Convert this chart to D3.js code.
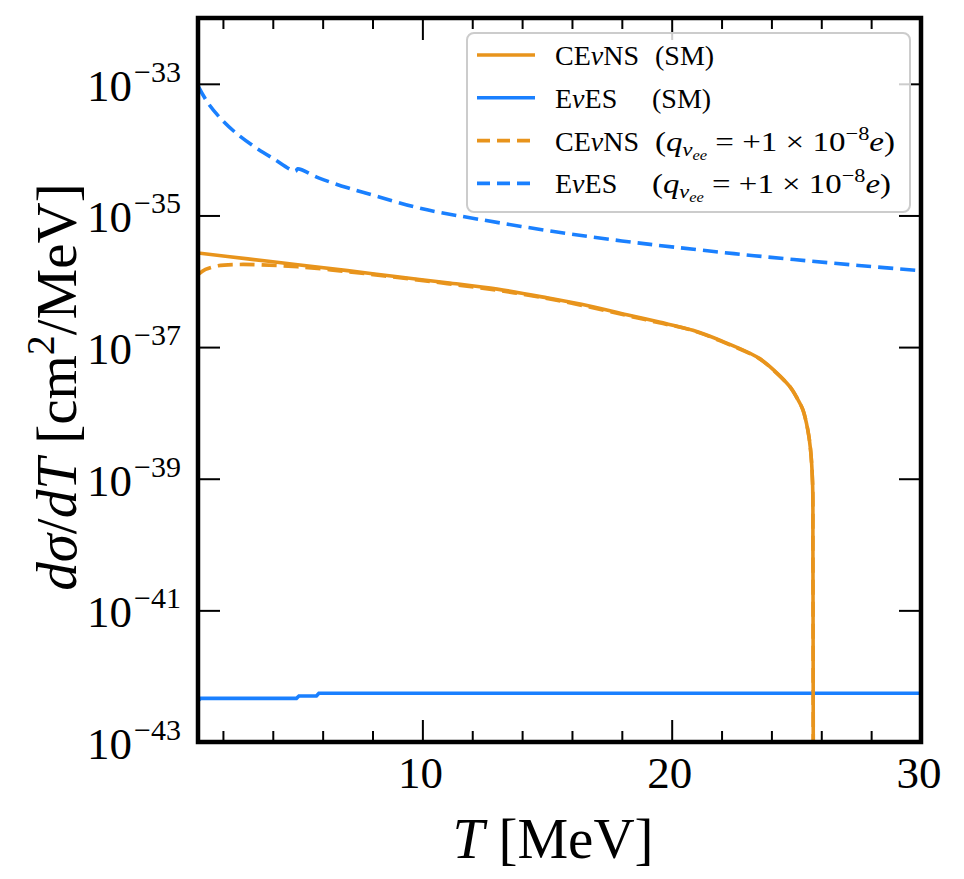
<!DOCTYPE html>
<html>
<head>
<meta charset="utf-8">
<script src="https://cdn.jsdelivr.net/npm/d3@7"></script>
<style>
  body { margin: 0; background: #fff; }
  svg { display: block; }
  text { font-family: "Liberation Serif", "DejaVu Serif", serif; fill: #000; }
</style>
</head>
<body>
<svg id="chart" width="964" height="879"></svg>
<script>
// T in MeV, dsigma/dT in cm^2/MeV
var cevnsSM_T   = [1, 3, 5, 7, 9, 11, 13, 15, 16.7, 18.2, 19.5, 20.85, 22, 23.5, 24.2, 24.74, 25.02, 25.26, 25.46, 25.57, 25.65, 25.665, 25.68];
var cevnsSM_val = [2.69e-36, 2.19e-36, 1.78e-36, 1.45e-36, 1.17e-36, 9.5e-37, 7.6e-37, 5.6e-37, 4.2e-37, 3.1e-37, 2.4e-37, 1.8e-37, 1.24e-37, 6.8e-38, 4.1e-38, 2.5e-38, 1.7e-38, 1.12e-38, 5.5e-39, 2.75e-39, 8.7e-40, 7.9e-41, 3e-44];

var evesSM_T   = [1, 1.1, 4.95, 5.05, 5.75, 5.85, 30];
var evesSM_val = [4.2e-43, 4.6e-43, 4.6e-43, 5.0e-43, 5.0e-43, 5.5e-43, 5.5e-43];

var cevnsQ_T   = [1, 1.3, 1.8, 2.6, 3.5, 5, 7, 9, 11, 13, 15, 16.7, 18.2, 19.5, 20.85, 22, 23.5, 24.2, 24.74, 25.02, 25.26, 25.46, 25.57, 25.65, 25.665, 25.68];
var cevnsQ_val = [1.26e-36, 1.51e-36, 1.72e-36, 1.80e-36, 1.78e-36, 1.66e-36, 1.40e-36, 1.14e-36, 9.2e-37, 7.3e-37, 5.5e-37, 4.07e-37, 3.02e-37, 2.34e-37, 1.78e-37, 1.22e-37, 6.7e-38, 4.05e-38, 2.5e-38, 1.7e-38, 1.12e-38, 5.5e-39, 2.75e-39, 8.7e-40, 7.9e-41, 3e-44];

var evesQ_T   = [1, 1.4, 1.9, 2.5, 3.2, 4, 4.9, 5.0, 5.86, 7, 8.27, 10, 12.3, 15.4, 18, 20.1, 22.5, 24.9, 27.5, 30];
var evesQ_val = [9.3e-34, 5.1e-34, 3.0e-34, 1.82e-34, 1.15e-34, 7.4e-35, 4.7e-35, 5.1e-35, 3.7e-35, 2.63e-35, 1.91e-35, 1.26e-35, 8.7e-36, 5.6e-36, 4.1e-36, 3.3e-36, 2.63e-36, 2.14e-36, 1.74e-36, 1.45e-36];

var xMajor = [10, 20, 30];
var xMinor = [2, 4, 6, 8, 12, 14, 16, 18, 22, 24, 26, 28];
var yTicks = [1e-43, 1e-41, 1e-39, 1e-37, 1e-35, 1e-33];
var yExponents = ["−43", "−41", "−39", "−37", "−35", "−33"];

var seriesNames = ["CEνNS", "EνES", "CEνNS", "EνES"];
var seriesTags  = ["sm", "sm", "q", "q"];
var seriesColors = ["#E8941C", "#1A80FF", "#E8941C", "#1A80FF"];
var seriesDashed = [false, false, true, true];

var svg = d3.select("#chart");
var pLeft = 198, pRight = 921, pTop = 18, pBottom = 742;

var x = d3.scaleLinear().domain([1, 30]).range([pLeft, pRight]);
var y = d3.scaleLog().domain([1e-43, 1e-32]).range([pBottom, pTop]);

svg.append("defs").append("clipPath").attr("id", "plotclip")
	.append("rect")
	.attr("x", pLeft).attr("y", pTop)
	.attr("width", pRight - pLeft).attr("height", pBottom - pTop);

function pairs(ts, vs)
{
	return ts.map(function(t, i){ return [t, vs[i]]; });
}

var allSeries = [
	pairs(cevnsSM_T, cevnsSM_val),
	pairs(evesSM_T, evesSM_val),
	pairs(cevnsQ_T, cevnsQ_val),
	pairs(evesQ_T, evesQ_val)
];

// centripetal catmull-rom bends cleanly into the vertical drop
var smooth = d3.line()
	.x(function(d){ return x(d[0]); })
	.y(function(d){ return y(d[1]); })
	.curve(d3.curveCatmullRom.alpha(0.5));

var straight = d3.line()
	.x(function(d){ return x(d[0]); })
	.y(function(d){ return y(d[1]); });

var plot = svg.append("g").attr("clip-path", "url(#plotclip)");

allSeries.forEach(function(s, i)
{
	plot.append("path")
		.datum(s)
		.attr("d", i == 1 ? straight : smooth)
		.attr("fill", "none")
		.attr("stroke", seriesColors[i])
		.attr("stroke-width", 3.6)
		.attr("stroke-dasharray", seriesDashed[i] ? "15,7" : null);
});

// ticks on all four sides, pointing inward
function tickStyle(g)
{
	g.select(".domain").remove();
	g.selectAll(".tick line").attr("stroke", "#000").attr("stroke-width", 2);
	g.selectAll(".tick text").remove();
}

svg.append("g").attr("transform", "translate(0," + pBottom + ")")
	.call(d3.axisBottom(x).tickValues(xMajor).tickSize(-22)).call(tickStyle);
svg.append("g").attr("transform", "translate(0," + pBottom + ")")
	.call(d3.axisBottom(x).tickValues(xMinor).tickSize(-11)).call(tickStyle);
svg.append("g").attr("transform", "translate(0," + pTop + ")")
	.call(d3.axisTop(x).tickValues(xMajor).tickSize(-22)).call(tickStyle);
svg.append("g").attr("transform", "translate(0," + pTop + ")")
	.call(d3.axisTop(x).tickValues(xMinor).tickSize(-11)).call(tickStyle);
svg.append("g").attr("transform", "translate(" + pLeft + ",0)")
	.call(d3.axisLeft(y).tickValues(yTicks).tickSize(-22)).call(tickStyle);
svg.append("g").attr("transform", "translate(" + pRight + ",0)")
	.call(d3.axisRight(y).tickValues(yTicks).tickSize(-22)).call(tickStyle);

// tick labels
svg.append("g").selectAll("text")
	.data(xMajor)
	.enter().append("text")
	.attr("x", function(d){ return x(d) - 2; })
	.attr("y", 788)
	.attr("text-anchor", "middle")
	.style("font-size", "45px")
	.text(function(d){ return d; });

var yl = svg.append("g").selectAll("text")
	.data(yTicks)
	.enter().append("text")
	.attr("x", 181)
	.attr("y", function(d){ return y(d) + 17; })
	.attr("text-anchor", "end")
	.style("font-size", "45px");
yl.append("tspan").text("10");
yl.append("tspan")
	.attr("dx", 2)
	.attr("dy", -19)
	.style("font-size", "30px")
	.text(function(d, i){ return yExponents[i]; });

// frame
svg.append("rect")
	.attr("x", pLeft).attr("y", pTop)
	.attr("width", pRight - pLeft).attr("height", pBottom - pTop)
	.attr("fill", "none")
	.attr("stroke", "#000")
	.attr("stroke-width", 4.5);

// axis titles
var xt = svg.append("text")
	.attr("x", 553).attr("y", 858)
	.attr("text-anchor", "middle")
	.style("font-size", "57px");
xt.append("tspan").style("font-style", "italic").text("T");
xt.append("tspan").text(" [MeV]");

var yt = svg.append("text")
	.attr("transform", "translate(76,387) rotate(-90)")
	.attr("text-anchor", "middle")
	.style("font-size", "57px");
yt.append("tspan").style("font-style", "italic").text("dσ");
yt.append("tspan").text("/");
yt.append("tspan").style("font-style", "italic").text("dT");
yt.append("tspan").text(" [cm");
yt.append("tspan").attr("dy", -22).style("font-size", "40px").text("2");
yt.append("tspan").attr("dy", 22).text("/MeV]");

// legend
var lg = svg.append("g");
lg.append("rect")
	.attr("x", 467).attr("y", 33)
	.attr("width", 443).attr("height", 179)
	.attr("rx", 7)
	.attr("fill", "#fff").attr("fill-opacity", 0.8)
	.attr("stroke", "#cccccc").attr("stroke-width", 2);

seriesNames.forEach(function(name, i)
{
	var cy = 55 + i * 42.8;
	lg.append("line")
		.attr("x1", 477).attr("x2", 535)
		.attr("y1", cy).attr("y2", cy)
		.attr("stroke", seriesColors[i])
		.attr("stroke-width", 3.6)
		.attr("stroke-dasharray", seriesDashed[i] ? "13,7" : null);

	lg.append("text")
		.attr("x", 555).attr("y", cy + 10)
		.style("font-size", "28px")
		.call(function(t)
		{
			t.append("tspan").text(name.split("ν")[0]);
			t.append("tspan").style("font-style", "italic").text("ν");
			t.append("tspan").text(name.split("ν")[1]);
		});

	var sfx = lg.append("text")
		.attr("x", i == 1 || i == 3 ? 652 : 655).attr("y", cy + 10)
		.style("font-size", "28px");
	if (seriesTags[i] == "sm")
	{
		sfx.text("(SM)");
	}
	else
	{
		sfx.attr("textLength", i == 2 ? 240 : 239).attr("lengthAdjust", "spacingAndGlyphs");
		sfx.append("tspan").text("(");
		sfx.append("tspan").style("font-style", "italic").text("q");
		sfx.append("tspan").attr("dy", 5).style("font-style", "italic").style("font-size", "19px").text("ν");
		sfx.append("tspan").attr("dy", 4).style("font-style", "italic").style("font-size", "14px").text("ee");
		sfx.append("tspan").attr("dy", -9).text(" = +1 × 10");
		sfx.append("tspan").attr("dy", -11).style("font-size", "19px").text("−8");
		sfx.append("tspan").attr("dy", 11).style("font-style", "italic").text("e");
		sfx.append("tspan").text(")");
	}
});
</script>
</body>
</html>
